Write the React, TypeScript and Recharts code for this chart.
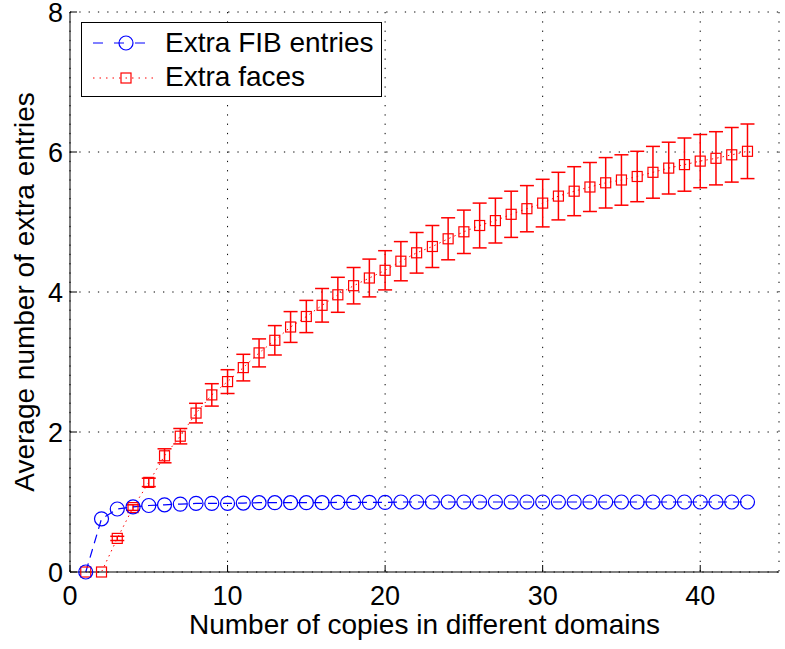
import React from "react";
import {
  ComposedChart,
  Line,
  XAxis,
  YAxis,
  CartesianGrid,
  ErrorBar,
  Legend,
  Label,
} from "recharts";

const copies = [
  1, 2, 3, 4, 5, 6, 7, 8, 9, 10, 11, 12, 13, 14, 15, 16, 17, 18, 19, 20, 21,
  22, 23, 24, 25, 26, 27, 28, 29, 30, 31, 32, 33, 34, 35, 36, 37, 38, 39, 40,
  41, 42, 43,
];
const fibEntries = [
  0, 0.76, 0.9, 0.93, 0.95, 0.96, 0.97, 0.98, 0.98, 0.98, 0.985, 0.99, 0.99,
  0.99, 0.99, 0.99, 0.995, 0.995, 0.995, 0.995, 1, 1, 1, 1, 1, 1, 1, 1, 1, 1, 1,
  1, 1, 1, 1, 1, 1, 1, 1, 1, 1, 1, 1,
];
const extraFaces = [
  0, 0, 0.48, 0.92, 1.28, 1.66, 1.94, 2.27, 2.53, 2.72, 2.92, 3.13, 3.31, 3.5,
  3.65, 3.81, 3.96, 4.09, 4.2, 4.31, 4.44, 4.56, 4.65, 4.76, 4.86, 4.95, 5.02,
  5.11, 5.19, 5.27, 5.37, 5.44, 5.5, 5.56, 5.6, 5.65, 5.71, 5.77, 5.82, 5.87,
  5.91, 5.96, 6.01,
];
const facesError = [
  0, 0, 0.03, 0.04, 0.06, 0.1, 0.11, 0.14, 0.16, 0.17, 0.19, 0.2, 0.21, 0.22,
  0.23, 0.24, 0.25, 0.26, 0.27, 0.28, 0.28, 0.29, 0.3, 0.3, 0.31, 0.32, 0.32,
  0.33, 0.33, 0.34, 0.34, 0.35, 0.35, 0.36, 0.36, 0.36, 0.37, 0.37, 0.38, 0.38,
  0.38, 0.39, 0.39,
];
const xTicks = [0, 10, 20, 30, 40];
const yTicks = [0, 2, 4, 6, 8];

const data = copies.map((c, i) => ({
  copies: c,
  fib: fibEntries[i],
  faces: extraFaces[i],
  facesErr: facesError[i],
}));

const FONT = "'Liberation Sans', Arial, Helvetica, sans-serif";
const BLUE = "#0000ff";
const RED = "#ff0000";

const BottomTick = (props: any) => {
  const { x, y, payload } = props;
  return (
    <g>
      <line x1={x} y1={y} x2={x} y2={y - 7} stroke="#000" />
      <text x={x} y={y + 33} textAnchor="middle" fontSize={27} fontFamily={FONT} fill="#000">
        {payload.value}
      </text>
    </g>
  );
};

const LeftTick = (props: any) => {
  const { x, y, payload } = props;
  return (
    <g>
      <line x1={x} y1={y} x2={x + 7} y2={y} stroke="#000" />
      <text x={x - 7} y={y + 10} textAnchor="end" fontSize={27} fontFamily={FONT} fill="#000">
        {payload.value}
      </text>
    </g>
  );
};

const TopTick = (props: any) => {
  const { x, y } = props;
  return <line x1={x} y1={y} x2={x} y2={y + 7} stroke="#000" />;
};

const RightTick = (props: any) => {
  const { x, y } = props;
  return <line x1={x} y1={y} x2={x - 7} y2={y} stroke="#000" />;
};

const CircleDot = (props: any) => {
  const { cx, cy, index } = props;
  return <circle key={`c-${index}`} cx={cx} cy={cy} r={7} fill="none" stroke={BLUE} strokeWidth={1.2} />;
};

const SquareDot = (props: any) => {
  const { cx, cy, index } = props;
  return (
    <rect
      key={`s-${index}`}
      x={cx - 5}
      y={cy - 5}
      width={10}
      height={10}
      fill="none"
      stroke={RED}
      strokeWidth={1.2}
    />
  );
};

const LegendBox = () => (
  <svg width={302} height={76} style={{ display: "block" }}>
    <rect x={0.5} y={0.5} width={300} height={74} fill="#fff" stroke="#000" />
    <line x1={12} y1={21} x2={74} y2={21} stroke={BLUE} strokeDasharray="10 11" strokeDashoffset={0} />
    <circle cx={45} cy={21} r={7} fill="none" stroke={BLUE} strokeWidth={1.2} />
    <text x={84} y={30} fontSize={28} fontFamily={FONT} fill="#000">
      Extra FIB entries
    </text>
    <line x1={12} y1={56} x2={74} y2={56} stroke={RED} strokeDasharray="1.5 5" />
    <rect x={40} y={51} width={10} height={10} fill="none" stroke={RED} strokeWidth={1.2} />
    <text x={84} y={64} fontSize={28} fontFamily={FONT} fill="#000">
      Extra faces
    </text>
  </svg>
);

export default function App() {
  return (
    <div style={{ position: "absolute", left: 0, top: 0, background: "#fff" }}>
      <ComposedChart
        width={785}
        height={649}
        data={data}
        margin={{ top: 12, right: 6, bottom: 0, left: 0 }}
      >
        <CartesianGrid stroke="#000" strokeDasharray="1.3 8" />
        <XAxis
          dataKey="copies"
          type="number"
          domain={[0, 45]}
          ticks={xTicks}
          height={77}
          tickSize={0}
          tickMargin={0}
          tickLine={false}
          axisLine={{ stroke: "#000" }}
          tick={<BottomTick />}
          interval={0}
        >
          <Label
            content={(p: any) => (
              <text
                x={p.viewBox.x + p.viewBox.width / 2}
                y={p.viewBox.y + 62}
                textAnchor="middle"
                fontSize={28}
                fontFamily={FONT}
                fill="#000"
              >
                Number of copies in different domains
              </text>
            )}
          />
        </XAxis>
        <XAxis
          xAxisId="top"
          orientation="top"
          type="number"
          domain={[0, 45]}
          ticks={xTicks}
          height={0}
          tickSize={0}
          tickMargin={0}
          tickLine={false}
          axisLine={{ stroke: "#000" }}
          tick={<TopTick />}
          interval={0}
        />
        <YAxis
          type="number"
          domain={[0, 8]}
          ticks={yTicks}
          width={70}
          tickSize={0}
          tickMargin={0}
          tickLine={false}
          axisLine={{ stroke: "#000" }}
          tick={<LeftTick />}
          interval={0}
        >
          <Label
            content={(p: any) => {
              const cy = p.viewBox.y + p.viewBox.height / 2;
              return (
                <text
                  x={34}
                  y={cy}
                  transform={`rotate(-90, 34, ${cy})`}
                  textAnchor="middle"
                  fontSize={28}
                  fontFamily={FONT}
                  fill="#000"
                >
                  Average number of extra entries
                </text>
              );
            }}
          />
        </YAxis>
        <YAxis
          yAxisId="right"
          orientation="right"
          type="number"
          domain={[0, 8]}
          ticks={yTicks}
          width={0}
          tickSize={0}
          tickMargin={0}
          tickLine={false}
          axisLine={{ stroke: "#000" }}
          tick={<RightTick />}
          interval={0}
        />
        <Line
          dataKey="faces"
          stroke={RED}
          strokeWidth={1}
          strokeDasharray="1.5 4"
          dot={SquareDot}
          activeDot={false}
          isAnimationActive={false}
        >
          <ErrorBar dataKey="facesErr" direction="y" width={7} stroke={RED} strokeWidth={1.5} />
        </Line>
        <Line
          dataKey="fib"
          stroke={BLUE}
          strokeWidth={1.2}
          strokeDasharray="9 6"
          dot={CircleDot}
          activeDot={false}
          isAnimationActive={false}
        />
        <Legend
          layout="horizontal"
          verticalAlign="middle"
          align="center"
          wrapperStyle={{ left: 81, top: 22, width: 302, height: 76 }}
          content={() => <LegendBox />}
        />
      </ComposedChart>
    </div>
  );
}
